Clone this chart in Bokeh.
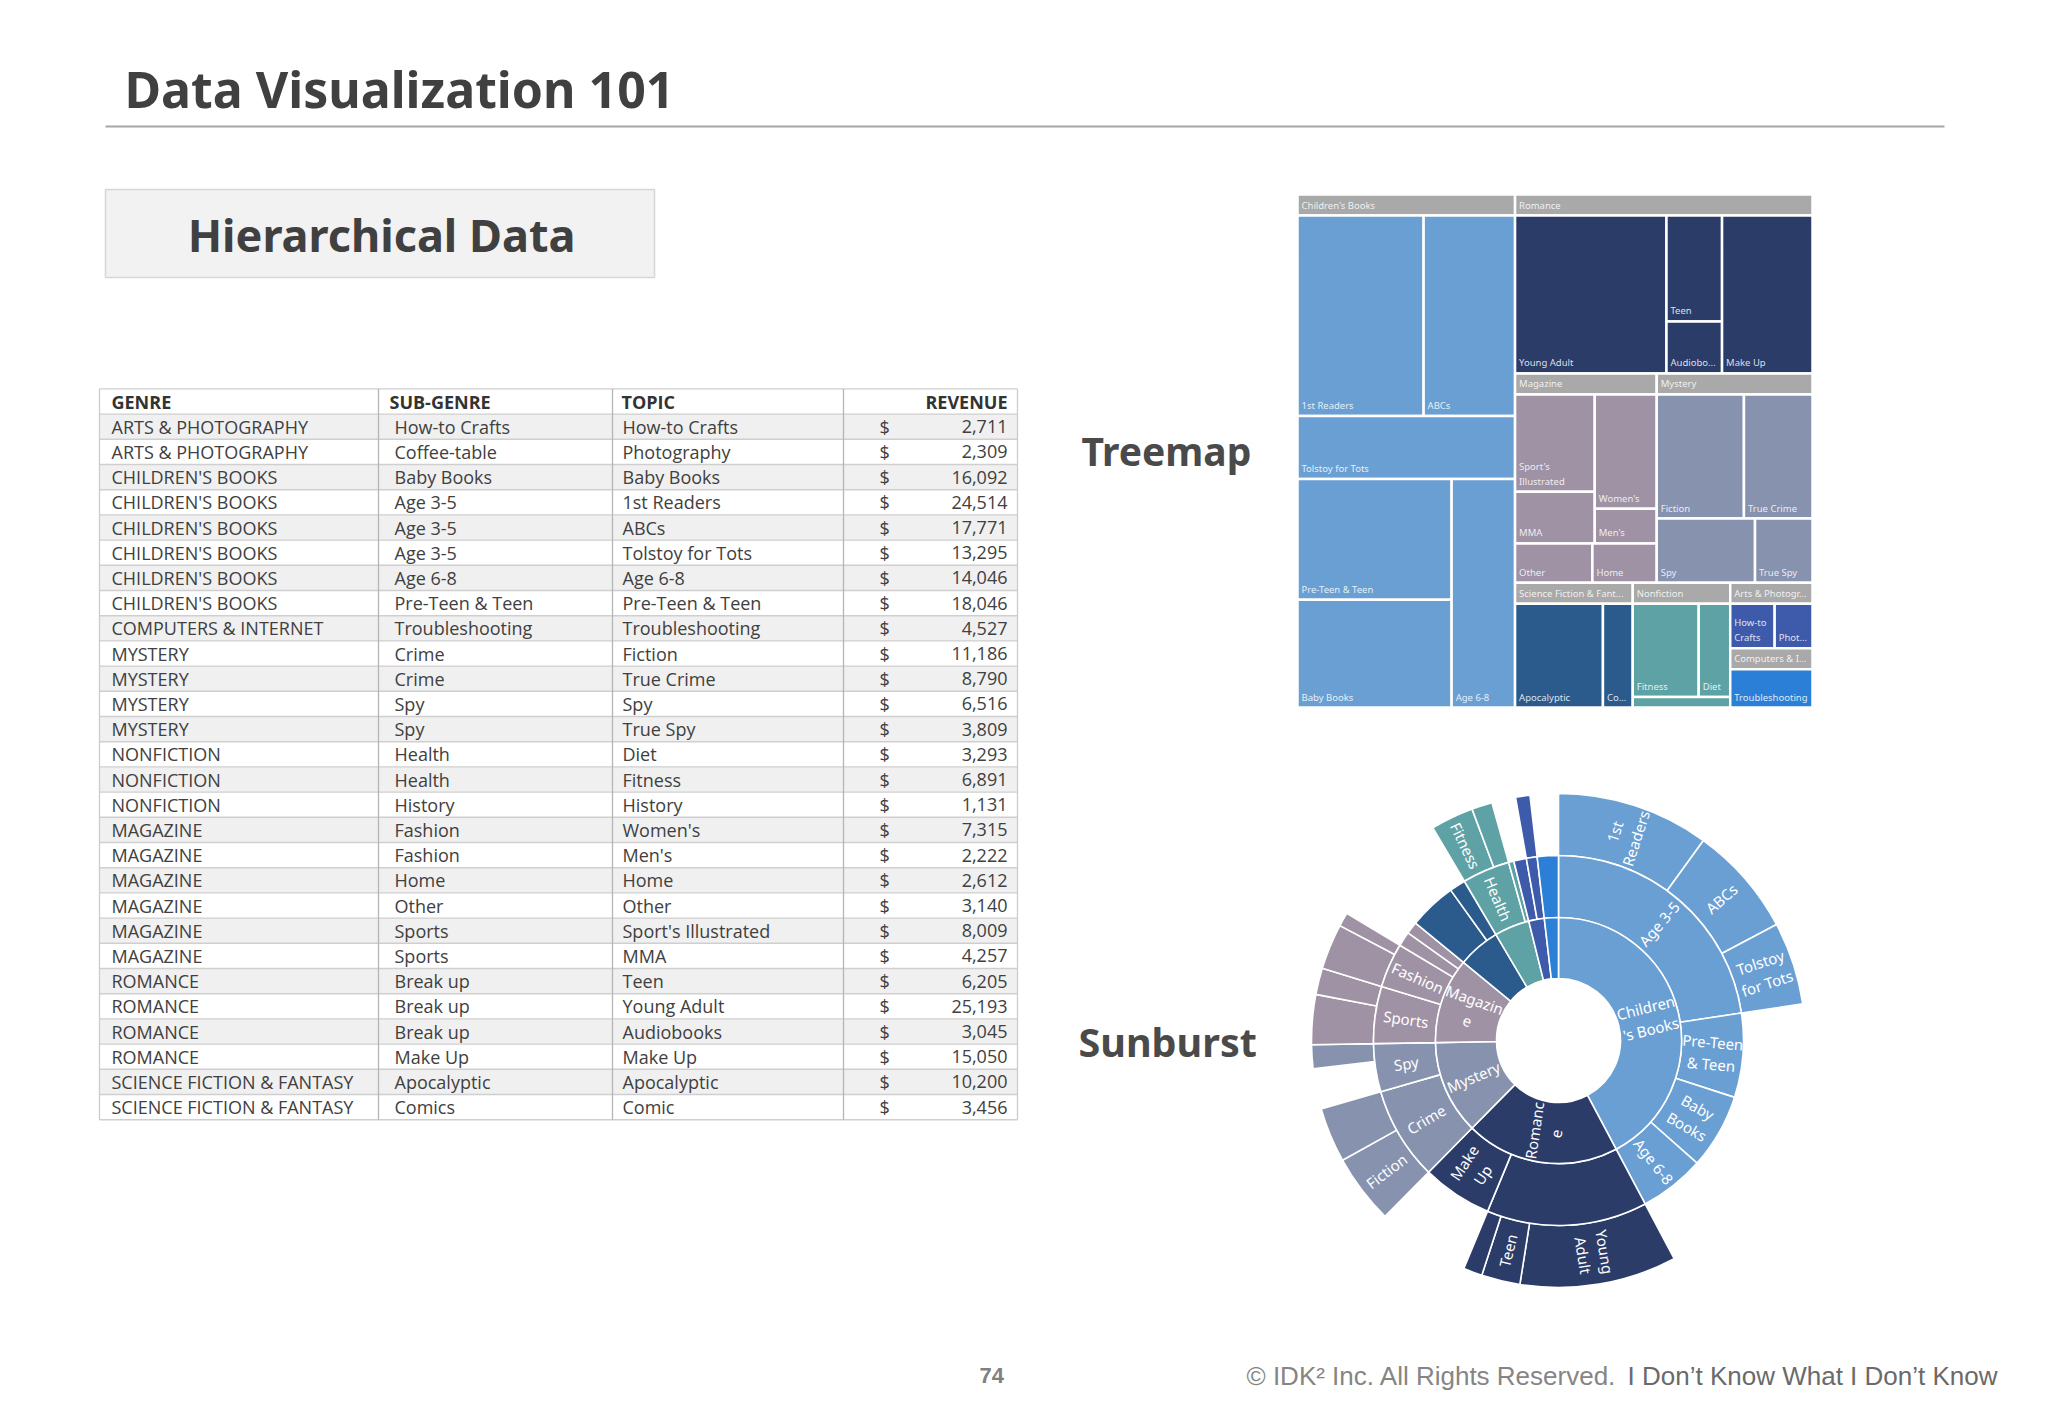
import math
from bokeh.plotting import figure
from bokeh.models import Range1d, ColumnDataSource
from bokeh.embed import file_html
from bokeh.resources import INLINE
from bokeh.core.properties import value

W, H = 2048, 1418

# ---------------- data ----------------
HEADERS = ["GENRE", "SUB-GENRE", "TOPIC", "REVENUE"]
GENRE = [
    "ARTS & PHOTOGRAPHY", "ARTS & PHOTOGRAPHY",
    "CHILDREN'S BOOKS", "CHILDREN'S BOOKS", "CHILDREN'S BOOKS", "CHILDREN'S BOOKS",
    "CHILDREN'S BOOKS", "CHILDREN'S BOOKS",
    "COMPUTERS & INTERNET",
    "MYSTERY", "MYSTERY", "MYSTERY", "MYSTERY",
    "NONFICTION", "NONFICTION", "NONFICTION",
    "MAGAZINE", "MAGAZINE", "MAGAZINE", "MAGAZINE", "MAGAZINE", "MAGAZINE",
    "ROMANCE", "ROMANCE", "ROMANCE", "ROMANCE",
    "SCIENCE FICTION & FANTASY", "SCIENCE FICTION & FANTASY",
]
SUB_GENRE = [
    "How-to Crafts", "Coffee-table",
    "Baby Books", "Age 3-5", "Age 3-5", "Age 3-5", "Age 6-8", "Pre-Teen & Teen",
    "Troubleshooting",
    "Crime", "Crime", "Spy", "Spy",
    "Health", "Health", "History",
    "Fashion", "Fashion", "Home", "Other", "Sports", "Sports",
    "Break up", "Break up", "Break up", "Make Up",
    "Apocalyptic", "Comics",
]
TOPIC = [
    "How-to Crafts", "Photography",
    "Baby Books", "1st Readers", "ABCs", "Tolstoy for Tots", "Age 6-8", "Pre-Teen & Teen",
    "Troubleshooting",
    "Fiction", "True Crime", "Spy", "True Spy",
    "Diet", "Fitness", "History",
    "Women's", "Men's", "Home", "Other", "Sport's Illustrated", "MMA",
    "Teen", "Young Adult", "Audiobooks", "Make Up",
    "Apocalyptic", "Comic",
]
REVENUE = [
    2711, 2309,
    16092, 24514, 17771, 13295, 14046, 18046,
    4527,
    11186, 8790, 6516, 3809,
    3293, 6891, 1131,
    7315, 2222, 2612, 3140, 8009, 4257,
    6205, 25193, 3045, 15050,
    10200, 3456,
]

GENRE_NAME = {
    "ARTS & PHOTOGRAPHY": "Arts & Photography",
    "CHILDREN'S BOOKS": "Children's Books",
    "COMPUTERS & INTERNET": "Computers & Internet",
    "MYSTERY": "Mystery",
    "NONFICTION": "Nonfiction",
    "MAGAZINE": "Magazine",
    "ROMANCE": "Romance",
    "SCIENCE FICTION & FANTASY": "Science Fiction & Fantasy",
}
GENRE_COLOR = {
    "CHILDREN'S BOOKS": "#6a9fd3",
    "ROMANCE": "#2c3c68",
    "MYSTERY": "#8792ae",
    "MAGAZINE": "#a092a5",
    "SCIENCE FICTION & FANTASY": "#2b5b8c",
    "NONFICTION": "#5ea2a6",
    "ARTS & PHOTOGRAPHY": "#3d5aab",
    "COMPUTERS & INTERNET": "#2c7fd6",
}

# treemap arrangement (which tiles share a row / column); sizes come from the values
TREEMAP_PLAN = ("h", ["CHILDREN'S BOOKS",
                      ("v", ["ROMANCE",
                             ("h", ["MAGAZINE", "MYSTERY"]),
                             ("h", ["SCIENCE FICTION & FANTASY", "NONFICTION",
                                    ("v", ["ARTS & PHOTOGRAPHY", "COMPUTERS & INTERNET"])])])])
TREEMAP_TOPIC_PLAN = {
    "CHILDREN'S BOOKS": ("v", [("h", ["1st Readers", "ABCs"]), "Tolstoy for Tots",
                               ("h", [("v", ["Pre-Teen & Teen", "Baby Books"]), "Age 6-8"])]),
    "ROMANCE": ("h", ["Young Adult", ("v", ["Teen", "Audiobooks"]), "Make Up"]),
    "MAGAZINE": ("v", [("h", [("v", ["Sport's Illustrated", "MMA"]), ("v", ["Women's", "Men's"])]),
                       ("h", ["Other", "Home"])]),
    "MYSTERY": ("v", [("h", ["Fiction", "True Crime"]), ("h", ["Spy", "True Spy"])]),
    "SCIENCE FICTION & FANTASY": ("h", ["Apocalyptic", "Comic"]),
    "NONFICTION": ("v", [("h", ["Fitness", "Diet"]), "History"]),
    "ARTS & PHOTOGRAPHY": ("h", ["How-to Crafts", "Photography"]),
    "COMPUTERS & INTERNET": "Troubleshooting",
}

# sunburst labels that are written in the reference
SB_LABELS = {
    (1, "CHILDREN'S BOOKS"), (1, "ROMANCE"), (1, "MYSTERY"), (1, "MAGAZINE"),
    (2, "Age 3-5"), (2, "Pre-Teen & Teen"), (2, "Baby Books"), (2, "Age 6-8"), (2, "Make Up"),
    (2, "Crime"), (2, "Spy"), (2, "Sports"), (2, "Fashion"), (2, "Health"),
    (3, "1st Readers"), (3, "ABCs"), (3, "Tolstoy for Tots"), (3, "Young Adult"), (3, "Teen"),
    (3, "Fiction"), (3, "Fitness"),
}

# ---------------- helpers ----------------
_CW = {"i": .26, "l": .26, "j": .26, "t": .36, "f": .34, "r": .41, "s": .48, "c": .48,
       "z": .47, "y": .52, "v": .52, "k": .52, "x": .52, "w": .8, "m": .93,
       "a": .56, "e": .56, "o": .6, "g": .6, "n": .61, "u": .61, "h": .61, "d": .61,
       "b": .61, "p": .61, "q": .61,
       "I": .3, "J": .28, "M": .9, "W": .93, "T": .56, "S": .55, "F": .55, "E": .56,
       "L": .52, "P": .6, "C": .63, "B": .65, "R": .64, "A": .64, "Y": .55, "U": .73,
       "D": .72, "H": .74, "N": .75, "O": .78, "G": .72, "K": .62, "V": .6, "Z": .56,
       "X": .6, "Q": .78, " ": .26, "'": .24, "-": .32, "&": .73, ".": .27, ",": .27}


def tw(s):
    t = 0.0
    for ch in s:
        if ch in _CW:
            t += _CW[ch]
        elif ch.isdigit():
            t += .57
        elif ch.isupper():
            t += .66
        else:
            t += .58
    return t


def Y(y):
    return H - y


p = figure(width=2032, height=1402, x_range=Range1d(0, 2032), y_range=Range1d(16, 1418),
           output_backend="svg", toolbar_location=None, min_border=0,
           x_axis_location=None, y_axis_location=None)
p.grid.visible = False
p.outline_line_color = None
p.background_fill_color = "white"
p.border_fill_color = "white"


def txt(x, y, s, size, color, font="Noto Sans", style="normal", align="left",
        baseline="middle", angle=0.0, alpha=1.0):
    p.text(x=[x], y=[Y(y)], text=[s], text_font=value(font),
           text_font_size=value(f"{size}px"), text_font_style=style, text_color=color,
           text_align=align, text_baseline=baseline, angle=angle, text_alpha=alpha)


# ---------------- slide header ----------------
txt(124, 88, "Data Visualization 101", 50, "#404040", style="bold")
p.segment(x0=[105], y0=[Y(126)], x1=[1944], y1=[Y(126)], line_color="#a6a6a6", line_width=2)

p.quad(left=[105], right=[654], top=[Y(189)], bottom=[Y(277)], fill_color="#f2f2f2",
       line_color="#d6d6d6", line_width=1.5)
txt(381, 234, "Hierarchical Data", 45, "#404040", style="bold", align="center")

txt(1081, 450, "Treemap", 39, "#4a4a4a", style="bold")
txt(1078, 1041, "Sunburst", 39.5, "#4a4a4a", style="bold")

# ---------------- table ----------------
TL, TR = 99, 1017
COLS = [378, 612, 843]
ROW0, ROWH = 388.4, 25.2
n = len(GENRE)
odd = [i for i in range(1, n + 1) if i % 2 == 1]
p.quad(left=TL, right=TR, top=[Y(ROW0 + i * ROWH) for i in odd],
       bottom=[Y(ROW0 + (i + 1) * ROWH) for i in odd], fill_color="#f0f0f0", line_color=None)
hy = [ROW0 + k * ROWH for k in range(n + 2)]
p.segment(x0=TL, x1=TR, y0=[Y(v) for v in hy], y1=[Y(v) for v in hy],
          line_color="#cfcfcf", line_width=1.4)
vx = [TL] + COLS + [TR]
vcol = ["#cccccc", "#b5b5b5", "#b5b5b5", "#b5b5b5", "#cccccc"]
p.segment(x0=vx, x1=vx, y0=Y(ROW0), y1=Y(ROW0 + (n + 1) * ROWH), line_color=vcol, line_width=1.3)

TF = "Open Sans"
TS = value("18px")
hc = ROW0 + 0.5 * ROWH
hsrc = ColumnDataSource(dict(x=[111, 389, 621], y=[Y(hc)] * 3, t=HEADERS[:3]))
p.text(x="x", y="y", text="t", source=hsrc, text_font=value(TF), text_font_size=TS,
       text_font_style="bold", text_color="#333333", text_baseline="middle")
txt(1007, hc, HEADERS[3], 18, "#333333", font=TF, style="bold", align="right")

cy = [Y(ROW0 + (i + 1.5) * ROWH) for i in range(n)]
for xs, col in [(111, GENRE), (394, SUB_GENRE), (622, TOPIC), (879, ["$"] * n)]:
    src = ColumnDataSource(dict(x=[xs] * n, y=cy, t=col))
    p.text(x="x", y="y", text="t", source=src, text_font=value(TF), text_font_size=TS,
           text_color="#404040", text_baseline="middle")
vsrc = ColumnDataSource(dict(x=[1007] * n, y=cy, t=[f"{v:,}" for v in REVENUE]))
p.text(x="x", y="y", text="t", source=vsrc, text_font=value(TF), text_font_size=TS,
       text_color="#404040", text_baseline="middle", text_align="right")

# ---------------- treemap ----------------
genre_total = {}
for g, v in zip(GENRE, REVENUE):
    genre_total[g] = genre_total.get(g, 0) + v
topic_value = {t: v for t, v in zip(TOPIC, REVENUE)}


def node_weight(node, leafw):
    if isinstance(node, str):
        return leafw[node]
    return sum(node_weight(c, leafw) for c in node[1])


def layout(node, rect, leafw, out):
    x0, y0, x1, y1 = rect
    if isinstance(node, str):
        out.append((node, rect))
        return
    kind, kids = node
    ws = [node_weight(k, leafw) for k in kids]
    tot = float(sum(ws))
    pos = x0 if kind == "h" else y0
    for k, w in zip(kids, ws):
        if kind == "h":
            nxt = pos + (x1 - x0) * w / tot
            layout(k, (pos, y0, nxt, y1), leafw, out)
        else:
            nxt = pos + (y1 - y0) * w / tot
            layout(k, (x0, pos, x1, nxt), leafw, out)
        pos = nxt


def fit_label(name, w, h, size, allow_wrap=True):
    avail = (w - 8) / size
    if h < size + 5 or avail <= 0:
        return ""
    if tw(name) <= avail:
        return name
    words = name.split(" ")
    if allow_wrap and len(words) > 1:
        lines, cur = [], ""
        for wd in words:
            cand = wd if not cur else cur + " " + wd
            if tw(cand) <= avail:
                cur = cand
            else:
                if cur:
                    lines.append(cur)
                cur = wd
        lines.append(cur)
        if all(tw(l) <= avail for l in lines) and len(lines) * size * 1.25 <= h - 6:
            return "\n".join(lines)
    for k in range(len(name) - 1, 0, -1):
        s = name[:k].rstrip() + "..."
        if tw(s) <= avail:
            return s
    return ""


TM = (1297, 194, 1812, 707)
HDR = 21
LS = 9.5
genre_rects = []
layout(TREEMAP_PLAN, TM, genre_total, genre_rects)
tq = dict(l=[], r=[], t=[], b=[], c=[])
tlab = dict(x=[], y=[], t=[])
hlab = dict(x=[], y=[], t=[])
for g, (x0, y0, x1, y1) in genre_rects:
    tq["l"].append(x0); tq["r"].append(x1); tq["t"].append(Y(y0)); tq["b"].append(Y(y0 + HDR))
    tq["c"].append("#a9a9a9")
    hlab["x"].append(x0 + 4); hlab["y"].append(Y(y0 + HDR / 2))
    hlab["t"].append(fit_label(GENRE_NAME[g], x1 - x0, HDR, LS, allow_wrap=False))
    leaves = []
    layout(TREEMAP_TOPIC_PLAN[g], (x0, y0 + HDR, x1, y1), topic_value, leaves)
    for t, (a0, b0, a1, b1) in leaves:
        tq["l"].append(a0); tq["r"].append(a1); tq["t"].append(Y(b0)); tq["b"].append(Y(b1))
        tq["c"].append(GENRE_COLOR[g])
        lab = fit_label(t, a1 - a0, b1 - b0, LS)
        if lab:
            tlab["x"].append(a0 + 4); tlab["y"].append(Y(b1 - 4)); tlab["t"].append(lab)
p.quad(left="l", right="r", top="t", bottom="b", fill_color="c", source=ColumnDataSource(tq),
       line_color="white", line_width=2.5)
p.text(x="x", y="y", text="t", source=ColumnDataSource(hlab), text_font=value("Noto Sans"),
       text_font_size=value(f"{LS}px"), text_color="white", text_alpha=0.85,
       text_baseline="middle")
p.text(x="x", y="y", text="t", source=ColumnDataSource(tlab), text_font=value("Noto Sans"),
       text_font_size=value(f"{LS}px"), text_color="white", text_alpha=0.85,
       text_baseline="bottom", text_line_height=1.15)

# ---------------- sunburst ----------------
CX, CY = 1558, 1040
RADII = [62, 123, 185, 247]
total = float(sum(REVENUE))


def collapsed(sub, topic):
    return sub.lower().startswith(topic.lower())


sub_total = {}
for g, s, v in zip(GENRE, SUB_GENRE, REVENUE):
    sub_total[(g, s)] = sub_total.get((g, s), 0) + v

segs = []  # (ring, name, th0, th1, color)
ang = 0.0
for g in sorted(genre_total, key=lambda k: -genre_total[k]):
    g0 = ang
    subs = sorted({s for gg, s in zip(GENRE, SUB_GENRE) if gg == g}, key=lambda s: -sub_total[(g, s)])
    for s in subs:
        s0 = ang
        tops = sorted([(t, v) for gg, ss, t, v in zip(GENRE, SUB_GENRE, TOPIC, REVENUE)
                       if gg == g and ss == s], key=lambda tv: -tv[1])
        for t, v in tops:
            t0 = ang
            ang += v / total * 360.0
            if not collapsed(s, t):
                segs.append((3, t, t0, ang, GENRE_COLOR[g]))
        segs.append((2, s, s0, ang, GENRE_COLOR[g]))
    segs.append((1, g, g0, ang, GENRE_COLOR[g]))

sb = dict(ri=[], ro=[], st=[], en=[], c=[])
for ring, name, a0, a1, col in segs:
    sb["ri"].append(RADII[ring - 1]); sb["ro"].append(RADII[ring])
    sb["st"].append(math.radians(90 - a1)); sb["en"].append(math.radians(90 - a0))
    sb["c"].append(col)
p.annular_wedge(x=CX, y=Y(CY), inner_radius="ri", outer_radius="ro", start_angle="st",
                end_angle="en", fill_color="c", line_color="white", line_width=1.6,
                source=ColumnDataSource(sb))


def wrap(label, max_em):
    lines, cur = [], ""
    for w in label.split(" "):
        cand = w if not cur else cur + " " + w
        if tw(cand) <= max_em:
            cur = cand
            continue
        if cur:
            lines.append(cur)
            cur = ""
        if tw(w) <= max_em or "-" in w:
            cur = w
            continue
        piece = ""
        for ch in w:
            if piece and tw(piece + ch) > max_em:
                lines.append(piece)
                piece = ch
            else:
                piece += ch
        cur = piece
    if cur:
        lines.append(cur)
    return "\n".join(lines)


SBF = 15
sl = dict(x=[], y=[], t=[], a=[])
for ring, name, a0, a1, col in segs:
    if (ring, name) not in SB_LABELS:
        continue
    label = GENRE_NAME[name] if ring == 1 else name
    mid = (a0 + a1) / 2.0
    rm = (RADII[ring - 1] + RADII[ring]) / 2.0
    phi = math.radians(90 - mid)
    rot = phi if mid < 180 else phi + math.pi
    sl["x"].append(CX + rm * math.cos(phi)); sl["y"].append(Y(CY) + rm * math.sin(phi))
    sl["t"].append(wrap(label, 4.0)); sl["a"].append(rot)
p.text(x="x", y="y", text="t", angle="a", source=ColumnDataSource(sl),
       text_font=value("Noto Sans"), text_font_size=value(f"{SBF}px"), text_color="white",
       text_align="center", text_baseline="middle", text_line_height=1.1)

# ---------------- footer ----------------
txt(979, 1375, "74", 22, "#808080", font="Liberation Sans", style="bold")
txt(1246, 1375, "\u00a9 IDK\u00b2 Inc. All Rights Reserved.", 26, "#858585", font="Liberation Sans")
txt(1997, 1375, "I Don\u2019t Know What I Don\u2019t Know", 26, "#6a6a6a", font="Liberation Sans",
    align="right")

open("out.html", "w").write(file_html(p, INLINE))
